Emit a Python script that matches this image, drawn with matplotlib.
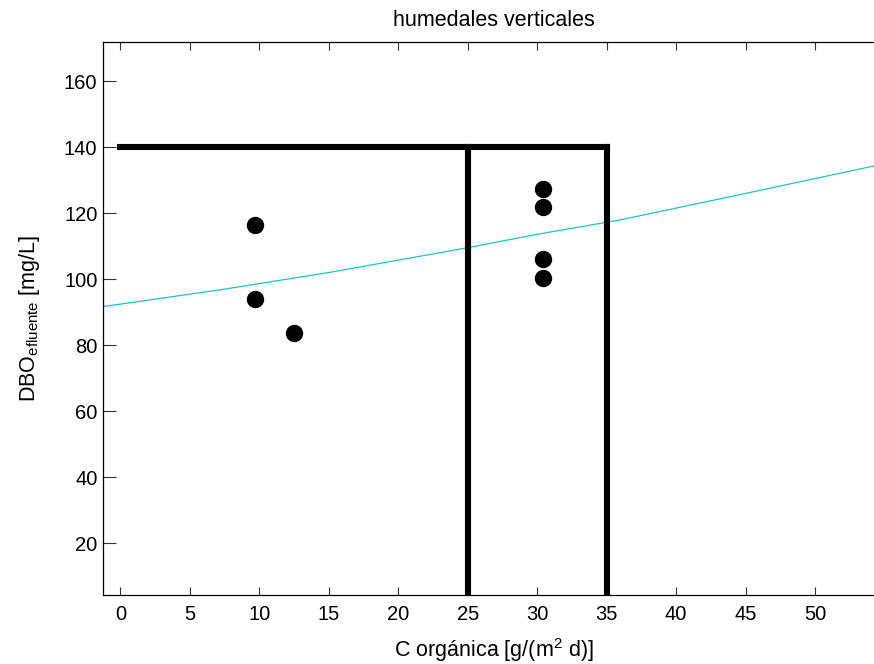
import matplotlib.pyplot as plt

plt.rcParams['font.family'] = ['Liberation Sans', 'DejaVu Sans']
plt.rcParams['mathtext.default'] = 'regular'

# puntos medidos
c_org = [9.7, 9.7, 12.5, 30.4, 30.4, 30.4, 30.4]
dbo = [116.3, 94.0, 83.6, 127.3, 121.9, 106.1, 100.4]

# curva de ajuste
fit_x = [-1.26, 7.2, 15.1, 24.8, 30.0, 36.0, 45.0, 55.0]
fit_y = [91.7, 96.8, 102.1, 109.4, 113.6, 118.0, 126.0, 135.0]

# limites (lineas gruesas)
lim_h_x = [0, 35]
lim_h_y = [140, 140]
lim_v1_x = [25, 25]
lim_v2_x = [35, 35]
lim_v_y = [140, 0]

xticks = [0, 5, 10, 15, 20, 25, 30, 35, 40, 45, 50]
yticks = [20, 40, 60, 80, 100, 120, 140, 160]

fig = plt.figure(figsize=(8.74, 6.64), dpi=100)
ax = fig.add_axes([0.1178, 0.1039, 0.8942, 0.8324])

ax.plot(fit_x, fit_y, color='#1cc4c8', lw=0.9)
ax.plot(lim_h_x, lim_h_y, color='black', lw=4.4, solid_capstyle='projecting')
ax.plot(lim_v1_x, lim_v_y, color='black', lw=4.4, solid_capstyle='projecting')
ax.plot(lim_v2_x, lim_v_y, color='black', lw=4.4, solid_capstyle='projecting')
ax.plot(c_org, dbo, 'o', color='black', ms=11.5)

ax.set_xlim(-1.25, 55)
ax.set_ylim(4.3, 171.8)
ax.set_xticks(xticks)
ax.set_yticks(yticks)
ax.tick_params(axis='x', direction='in', length=6, top=True, labelsize=14.5, pad=7,
               color='#333333')
ax.tick_params(axis='y', direction='in', length=9, labelsize=14.5, pad=4, color='#333333')
for s in ax.spines.values():
    s.set_linewidth(0.9)

ax.set_title('humedales verticales', fontsize=15.5, pad=12)
ax.set_xlabel('C orgánica [g/(m$^2$ d)]', fontsize=15.5, labelpad=9)
ax.set_ylabel('DBO$_{efluente}$ [mg/L]', fontsize=15.5, labelpad=16)

plt.savefig('out.png', dpi=100)
